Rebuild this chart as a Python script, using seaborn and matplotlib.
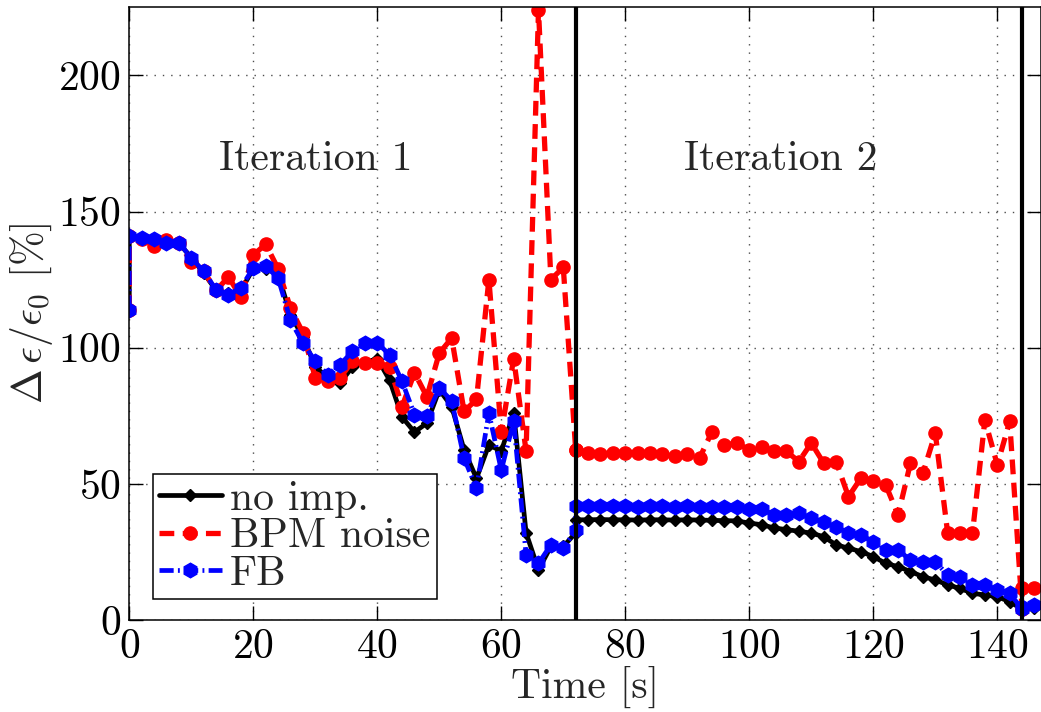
import numpy as np
import pandas as pd
import matplotlib
matplotlib.use('Agg')
import matplotlib.pyplot as plt
import seaborn as sns

# time axis: each iteration starts with a reset sample, then one sample every 2 s
time = np.r_[0, np.arange(0, 72, 2), 72, np.arange(72, 144, 2), 144, 144, 146]

no_imp = [
    114, 141, 140, 139.5, 139, 138.5, 133, 127.5, 121, 120, 121, 129, 129, 127, 112, 104,
    93, 89, 87, 93, 94.5, 96, 88, 74.5, 69, 72.3, 84.5, 78.4, 62.5, 52, 64.3, 62, 76,
    32, 18.4, 27, 27,
    32, 36.8, 36.8, 36.9, 36.8, 36.8, 36.7, 36.8, 36.8, 36.7, 36.8, 36.7, 36.6, 36.5, 36.4,
    35.6, 35, 33.8, 33.2, 32.6, 31.9, 30.6, 27.6, 26.4, 25.1, 23.3, 20.8, 19.6, 17.8, 15.9,
    14.7, 12.9, 11.6, 9.8, 9.2, 8.6, 6.7,
    4, 4.9, 4.5,
]
bpm_noise = [
    114, 141, 140, 137.5, 139.5, 138.5, 131.5, 128, 121, 126, 118.5, 134, 138, 129, 114.5, 105.5,
    89, 87.6, 89, 95, 94.5, 94.5, 93, 78.4, 90.8, 82, 98, 103.5, 76.6, 81, 125, 69, 96,
    62, 224, 125, 129.5,
    62.5, 62.5, 61.5, 60.8, 61.5, 61.5, 61.5, 61.5, 61, 60.2, 61, 59.6,
    69.2, 64.3, 64.9, 62.5, 63.7, 61.9, 61.9, 58.2, 65, 57.6, 58.2, 45.3, 52.1, 50.9, 49.6,
    38.6, 57.6, 53.9, 68.6, 31.9, 31.9, 31.9, 73.5, 57, 72.9,
    4, 11.6, 11.6,
]
fb = [
    114, 141, 140.3, 140, 138.5, 138.5, 133, 128, 121.3, 119.5, 122, 129.3, 130, 125.6, 110, 101.8,
    95, 90, 93.8, 98.6, 101.7, 101.7, 97.4, 87.6, 75.4, 75, 85.2, 80.5, 59.4, 48.4, 76, 55, 73,
    24, 20.8, 27.6, 26.4,
    33, 41.7, 41.7, 41.8, 41.7, 41.7, 41.6, 41.7, 41.7, 41.6, 41.7, 41.6, 41.5, 41.5, 41.4,
    40.6, 40.6, 38.7, 38.7, 39.3, 37.4, 36.1, 34.3, 31.9, 31.2, 28.8, 25.7, 25.7, 22, 21.4,
    21.4, 16.5, 15.9, 12.9, 12.9, 11, 9.8,
    4, 4.9, 5.5,
]
labels = ['no imp.', 'BPM noise', 'FB']
iter_bounds = [72, 144]

sns.set_theme(style='ticks')
plt.rcParams['font.family'] = ['cmr10']
plt.rcParams['mathtext.fontset'] = 'cm'
plt.rcParams['axes.formatter.use_mathtext'] = True
plt.rcParams['axes.unicode_minus'] = False

FS = 30

fig = plt.figure(figsize=(10.41, 7.12), dpi=100)
ax = fig.add_axes([0.1242, 0.1292, 0.8755, 0.8606])
ax.set_axisbelow(True)

styles = [
    dict(color='black', linestyle='-', linewidth=3.4, marker='D', markersize=6.5),
    dict(color='#ff0000', linestyle=(0, (2.8, 1.6)), linewidth=3.8, marker='o', markersize=9.5),
    dict(color='#0000ff', linestyle=(0, (3.0, 0.9, 0.4, 0.9)), linewidth=3.4, marker='h', markersize=10.5),
]
for vals, lab, st in zip([no_imp, bpm_noise, fb], labels, styles):
    sns.lineplot(x=time, y=vals, ax=ax, estimator=None, sort=False, label=lab,
                 markeredgecolor=st['color'], markeredgewidth=1, **st)

for b in iter_bounds:
    ax.axvline(b, color='black', linewidth=3, zorder=4)

ax.text(30, 169, 'Iteration 1', ha='center', va='center', fontsize=FS)
ax.text(105, 169, 'Iteration 2', ha='center', va='center', fontsize=FS)

ax.set_xlim(0, 147)
ax.set_ylim(0, 225)
ax.set_xticks(np.arange(0, 141, 20))
ax.set_yticks(np.arange(0, 201, 50))
ax.grid(True, linestyle=(0, (1, 5)), color='0.3', linewidth=1)
ax.tick_params(direction='in', length=10, width=1, top=True, right=True,
               labelsize=FS, pad=6, colors='black')
for s in ax.spines.values():
    s.set_linewidth(1.1)
    s.set_color('black')

ax.set_xlabel('Time [s]', fontsize=FS, labelpad=0)
ax.set_ylabel(r'$\Delta\,\epsilon/\epsilon_0$ [%]', fontsize=FS, labelpad=2)

ax.legend(loc='lower left', bbox_to_anchor=(0.026, 0.034), borderaxespad=0,
          fontsize=FS, handlelength=1.5, handletextpad=0.2, numpoints=1,
          fancybox=False, edgecolor='black', framealpha=1, borderpad=0.15,
          labelspacing=0.0)
ax.get_legend().get_frame().set_linewidth(1.1)

fig.savefig('out.png', dpi=100)
